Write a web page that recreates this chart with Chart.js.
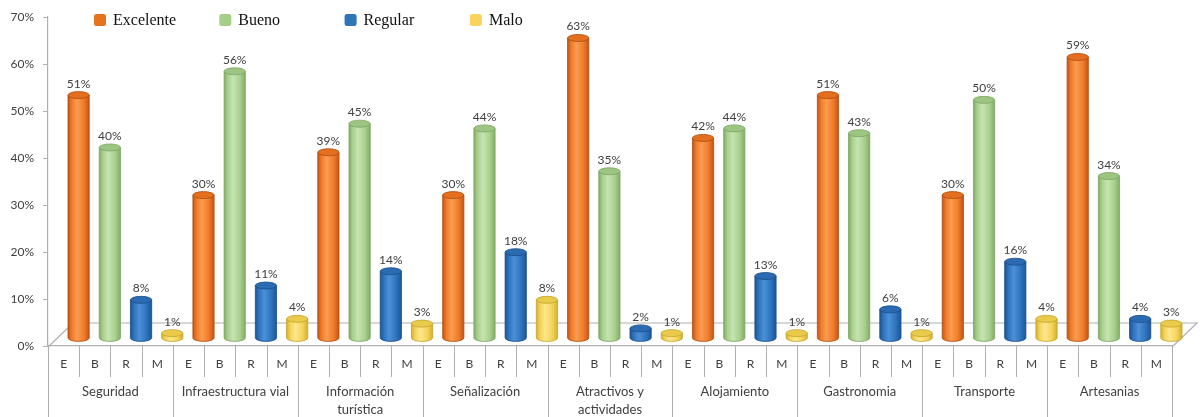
<!DOCTYPE html>
<html><head><meta charset="utf-8">
<script src="https://cdn.jsdelivr.net/npm/chart.js@4.4.1/dist/chart.umd.min.js"></script>
<style>html,body{margin:0;padding:0;background:#fff}#wrap{width:1200px;height:417px;position:relative}</style>
</head><body><div id="wrap"><canvas id="c"></canvas></div>
<script>
// ---- data ----
const groupLabels = ['Seguridad', 'Infraestructura vial', ['Información', 'turística'], 'Señalización', ['Atractivos y', 'actividades'], 'Alojamiento', 'Gastronomia', 'Transporte', 'Artesanias'];
const subLabels = ['E', 'B', 'R', 'M'];
const seriesNames = ['Excelente', 'Bueno', 'Regular', 'Malo'];
const excelente = [51, 30, 39, 30, 63, 42, 51, 30, 59];
const bueno     = [40, 56, 45, 44, 35, 44, 43, 50, 34];
const regular   = [8, 11, 14, 18, 2, 13, 6, 16, 4];
const malo      = [1, 4, 3, 8, 1, 1, 1, 4, 3];
const yTickValues = [0, 10, 20, 30, 40, 50, 60, 70];

// ---- styles ----
const palette = [
  {dark:'#C4541A', mid:'#F07C28', light:'#F99C52', top:'#E46F1E', stroke:'#B04C12', legend:'#E8731E'},
  {dark:'#83AD67', mid:'#A9D08E', light:'#C6E4B1', top:'#9CC582', stroke:'#7CA562', legend:'#A5CF88'},
  {dark:'#1D5596', mid:'#2E74BE', light:'#4B90D8', top:'#2A6BB2', stroke:'#1A4C86', legend:'#2E75B6'},
  {dark:'#D4B02E', mid:'#F4D45A', light:'#FCE78E', top:'#E9CA4A', stroke:'#C4A42C', legend:'#F8D45C'}
];
const DX = 15;       // 3D depth shift of the cylinders
const FLOOR_X = 25, FLOOR_Y = 23;
const lineGray = '#B0B0B0';
const textCol = '#404040';

const seriesValues = [excelente, bueno, regular, malo];
const xLabels = [];
groupLabels.forEach(() => subLabels.forEach(s => xLabels.push(s)));

const datasets = seriesValues.map((vals, s) => ({
  label: seriesNames[s],
  data: xLabels.map((_, i) => (i % 4 === s) ? vals[Math.floor(i / 4)] : null),
  backgroundColor: 'rgba(0,0,0,0)',
  borderWidth: 0,
  grouped: false,
  barPercentage: 0.68,
  categoryPercentage: 1,
  xAxisID: 'x',
  yAxisID: 'yb',
  clip: false
}));

const cylPlugin = {
  id: 'cyl',
  beforeDatasetsDraw(chart) {
    const {ctx, chartArea: a} = chart;
    ctx.save();
    ctx.strokeStyle = lineGray; ctx.lineWidth = 1.2;
    ctx.beginPath();
    ctx.moveTo(a.left, a.bottom + 1); ctx.lineTo(a.left + FLOOR_X, a.bottom - FLOOR_Y);
    ctx.lineTo(a.right + FLOOR_X, a.bottom - FLOOR_Y);
    ctx.lineTo(a.right, a.bottom + 1);
    ctx.stroke();
    ctx.restore();
  },
  afterDatasetsDraw(chart) {
    const ctx = chart.ctx;
    ctx.save();
    const labels = [];
    chart.data.datasets.forEach((ds, di) => {
      const meta = chart.getDatasetMeta(di);
      const p = palette[di];
      meta.data.forEach((el, i) => {
        const v = ds.data[i];
        if (v == null) return;
        const {x, y, base, width} = el.getProps(['x', 'y', 'base', 'width'], true);
        const cx = x + DX, r = width / 2, ry = 3.5;
        const g = ctx.createLinearGradient(cx - r, 0, cx + r, 0);
        g.addColorStop(0, p.dark);
        g.addColorStop(0.18, p.mid);
        g.addColorStop(0.42, p.light);
        g.addColorStop(0.75, p.mid);
        g.addColorStop(1, p.dark);
        ctx.beginPath();
        ctx.moveTo(cx - r, y);
        ctx.lineTo(cx - r, base);
        ctx.ellipse(cx, base, r, ry, 0, Math.PI, 0, true);
        ctx.lineTo(cx + r, y);
        ctx.closePath();
        ctx.fillStyle = g; ctx.fill();
        ctx.strokeStyle = p.stroke; ctx.lineWidth = 0.8; ctx.stroke();
        ctx.beginPath();
        ctx.ellipse(cx, y, r, ry, 0, 0, Math.PI * 2);
        ctx.fillStyle = p.top; ctx.fill();
        ctx.strokeStyle = p.stroke; ctx.lineWidth = 0.8; ctx.stroke();
        labels.push([v + '%', cx, y - ry - 4]);
      });
    });
    ctx.font = '12px Lato';
    ctx.fillStyle = textCol;
    ctx.textAlign = 'center';
    ctx.textBaseline = 'alphabetic';
    labels.forEach(([t, lx, ly]) => ctx.fillText(t, lx, ly));
    ctx.restore();
  },
  afterDraw(chart) {
    const ctx = chart.ctx;
    const xs = chart.scales.x, a = chart.chartArea;
    const step = xs.getPixelForValue(1) - xs.getPixelForValue(0);
    ctx.save();
    ctx.strokeStyle = lineGray; ctx.lineWidth = 1;
    for (let i = 0; i <= xLabels.length; i++) {
      const px = Math.round(xs.getPixelForValue(0) - step / 2 + i * step) + 0.5;
      const full = (i % subLabels.length === 0);
      ctx.beginPath();
      ctx.moveTo(px, a.bottom);
      ctx.lineTo(px, full ? chart.height : xs.bottom - 1);
      ctx.stroke();
    }
    // legend
    ctx.font = '16px "Liberation Serif"';
    ctx.textBaseline = 'middle';
    ctx.textAlign = 'left';
    seriesNames.forEach((n, s) => {
      const mx = a.left + 46 + s * 125.3, my = 14;
      ctx.fillStyle = palette[s].legend;
      ctx.beginPath();
      ctx.roundRect(mx, my, 12, 12, 2.5);
      ctx.fill();
      ctx.fillStyle = '#111';
      ctx.fillText(n, mx + 19, my + 6.5);
    });
    ctx.restore();
  }
};

new Chart(document.getElementById('c'), {
  type: 'bar',
  data: { labels: xLabels, datasets },
  options: {
    responsive: true,
    maintainAspectRatio: false,
    animation: false,
    devicePixelRatio: 1,
    layout: { padding: { top: 17, right: 28, left: 0, bottom: 0 } },
    plugins: { legend: { display: false }, tooltip: { enabled: false } },
    scales: {
      x: {
        type: 'category',
        position: 'bottom',
        weight: 0,
        grid: { display: false, drawTicks: false },
        border: { display: true, color: lineGray, width: 1.2 },
        ticks: { color: textCol, font: { family: 'Lato', size: 12 }, padding: 11, autoSkip: false, maxRotation: 0 },
        afterFit: s => { s.height = 32; }
      },
      x2: {
        type: 'category',
        position: 'bottom',
        weight: 1,
        labels: groupLabels,
        grid: { display: false, drawTicks: false },
        border: { display: false },
        ticks: { color: textCol, font: { family: 'Lato', size: 13, lineHeight: 1.4 }, padding: 5, autoSkip: false, maxRotation: 0 },
        afterFit: s => { s.height = 39; }
      },
      y: {
        type: 'linear',
        min: 0, max: 70,
        afterBuildTicks: s => { s.ticks = yTickValues.map(v => ({value: v})); },
        grid: { drawOnChartArea: false, drawTicks: true, tickLength: 5, color: lineGray },
        border: { display: true, color: lineGray, width: 1.2 },
        ticks: { color: textCol, font: { family: 'Lato', size: 12 }, padding: 9, callback: v => v + '%' },
        afterFit: s => { s.width = 48; }
      },
      yb: {
        type: 'linear',
        display: false,
        min: -1.7, max: 67.4
      }
    }
  },
  plugins: [cylPlugin]
});
</script>
</body></html>
